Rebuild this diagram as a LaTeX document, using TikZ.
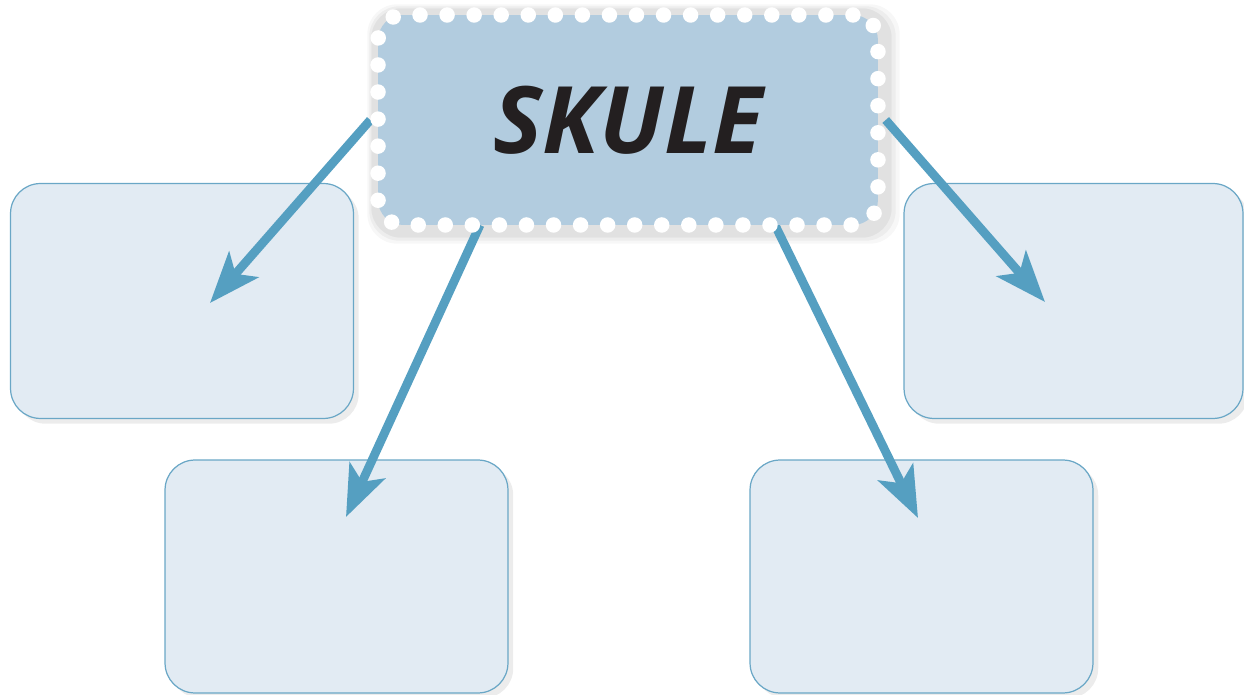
\documentclass[tikz,border=0pt]{standalone}
\usepackage{fontspec}
\usepackage{tikz}
\usetikzlibrary{arrows.meta,shadows,backgrounds,calc}
\newfontfamily\skulefont{Open Sans}
\definecolor{hubfill}{HTML}{B2CCDF}
\definecolor{leaffill}{HTML}{E2EBF3}
\definecolor{leafline}{HTML}{6AA7C6}
\definecolor{arrowblue}{HTML}{559FC1}
\definecolor{inkdark}{HTML}{231F20}

\begin{document}
\begin{tikzpicture}[x=0.02cm,y=0.02cm,
    leaf/.style={draw=leafline,line width=0.7pt,fill=leaffill,rounded corners=0.6cm,
      minimum width=6.86cm,minimum height=4.7cm,
      drop shadow={shadow xshift=3pt,shadow yshift=-3pt,opacity=0.15}},
    hub/.style={fill=hubfill,draw=white,line width=8.8pt,line cap=round,
      dash pattern=on 0pt off 15.4pt,rounded corners=0.5cm,
      minimum width=10cm,minimum height=4.2cm},
    halo/.style={fill=black,rounded corners=0.6cm},
    link/.style={arrowblue,line width=5pt,-{Stealth[length=29pt,width=22pt,inset=7pt]}}]
  \useasboundingbox (0,0) rectangle (1244,-695);

  \node[hub] (skule) at (628,-120)
    {\fontsize{53}{62}\selectfont\skulefont\bfseries\itshape\color{inkdark}SKULE};

  \begin{scope}[on background layer]
    \node[leaf] (topleft) at (182,-301) {};
    \node[leaf,minimum width=6.78cm] (topright) at (1073.5,-301) {};
    \node[leaf,minimum height=4.66cm] (botleft) at (336.5,-576.5) {};
    \node[leaf,minimum height=4.66cm] (botright) at (921.5,-576.5) {};

    % soft shadow round the hub
    \fill[halo,opacity=0.03] ($(skule.south west)+(-3,-11)$) rectangle ($(skule.north east)+(14,3)$);
    \fill[halo,opacity=0.04] ($(skule.south west)+(-1,-8)$) rectangle ($(skule.north east)+(10,1)$);
    \fill[halo,opacity=0.05] ($(skule.south west)+(1,-5)$) rectangle ($(skule.north east)+(6,-1)$);

    \coordinate (s2) at (480,-225);
    \coordinate (s3) at (775,-225);
    \coordinate (t1) at (210,-303);
    \coordinate (t2) at (346,-517);
    \coordinate (t3) at (918,-518);
    \coordinate (t4) at (1045,-302);

    \draw[link] (skule.west) -- (t1);
    \draw[link] (s2) -- (t2);
    \draw[link] (s3) -- (t3);
    \draw[link] (skule.east) -- (t4);
  \end{scope}
\end{tikzpicture}
\end{document}
